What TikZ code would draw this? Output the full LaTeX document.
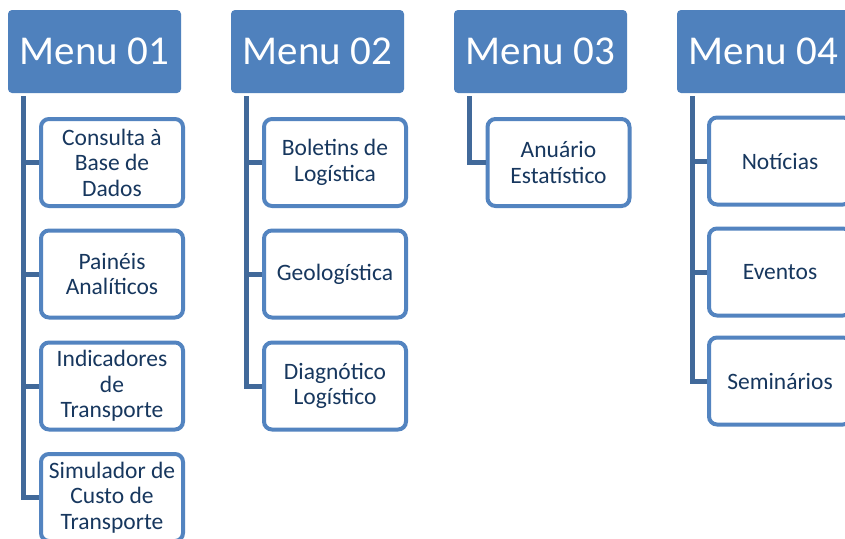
\documentclass[tikz,border=0pt]{standalone}
\usepackage{fontspec}
\setmainfont{Carlito}
\definecolor{hdrblue}{HTML}{4F81BD}
\definecolor{boxblue}{HTML}{5384C0}
\definecolor{lineblue}{HTML}{41699A}
\definecolor{navy}{HTML}{17375E}
\begin{document}
\begin{tikzpicture}[x=1pt,y=-1pt,
  header/.style={fill=hdrblue, rounded corners=4pt, minimum width=173pt, minimum height=83pt, inner sep=0pt,
    text=white, font=\fontsize{41}{45}\selectfont},
  childbox/.style={draw=boxblue, line width=4pt, fill=white, rounded corners=8pt, minimum width=142pt, minimum height=87pt,
    inner sep=0pt, align=center, text=navy, font=\fontsize{23.5}{25.5}\selectfont},
  conn/.style={draw=lineblue, line width=5pt, line join=miter}]
\useasboundingbox (0,0) rectangle (845,538);
\fill[white] (0,0) rectangle (845,538);
% headers
\node[header] (h1) at (94.5,51.5) {Menu 01};
\node[header] (h2) at (317.5,51.5) {Menu 02};
\node[header] (h3) at (540.5,51.5) {Menu 03};
\node[header] (h4) at (763.5,51.5) {Menu 04};
% trunk starts
\coordinate (t1) at (23,96);
\coordinate (t2) at (246,96);
\coordinate (t3) at (469,96);
\coordinate (t4) at (692,96);
% column 1
\node[childbox] (c11) at (112,162.5) {Consulta à\\Base de\\Dados};
\node[childbox] (c12) at (112,274) {Painéis\\Analíticos};
\node[childbox] (c13) at (112,386) {Indicadores\\de\\Transporte};
\node[childbox] (c14) at (112,497.5) {Simulador de\\Custo de\\Transporte};
% column 2
\node[childbox] (c21) at (335,162.5) {Boletins de\\Logística};
\node[childbox] (c22) at (335,274) {Geologística};
\node[childbox] (c23) at (335,386) {Diagnótico\\Logístico};
% column 3
\node[childbox] (c31) at (558.5,162.5) {Anuário\\Estatístico};
% column 4
\node[childbox] (c41) at (780,161) {Notícias};
\node[childbox] (c42) at (780,272) {Eventos};
\node[childbox] (c43) at (780,381) {Seminários};
% connectors
\draw[conn] (t1) |- (c14.west);
\draw[conn] (t1) |- (c11.west);
\draw[conn] (t1) |- (c12.west);
\draw[conn] (t1) |- (c13.west);
\draw[conn] (t2) |- (c23.west);
\draw[conn] (t2) |- (c21.west);
\draw[conn] (t2) |- (c22.west);
\draw[conn] (t3) |- (c31.west);
\draw[conn] (t4) |- (c43.west);
\draw[conn] (t4) |- (c41.west);
\draw[conn] (t4) |- (c42.west);
\end{tikzpicture}
\end{document}
